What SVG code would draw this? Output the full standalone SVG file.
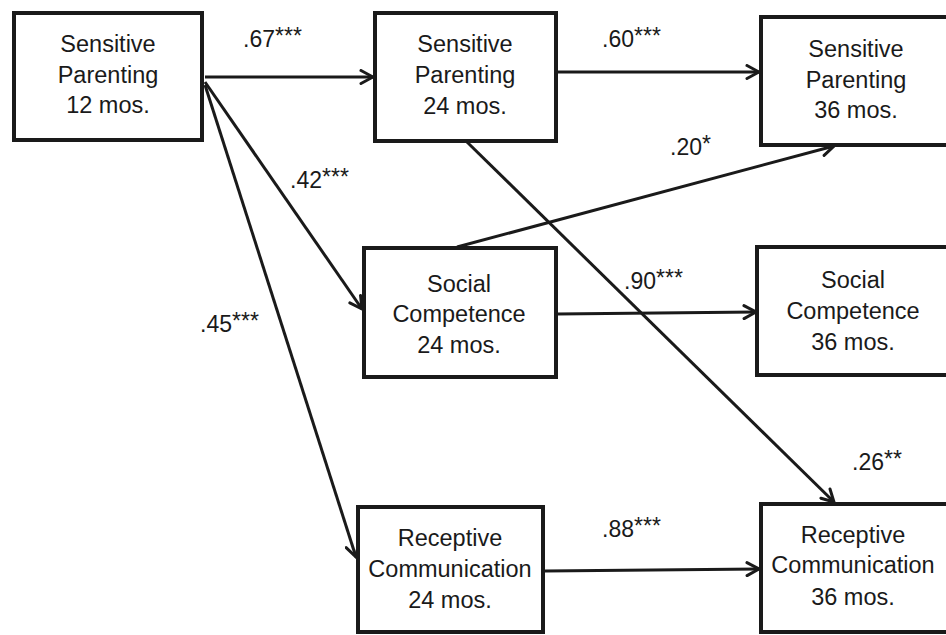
<svg xmlns="http://www.w3.org/2000/svg" width="946" height="635" viewBox="0 0 946 635">
<defs>
<style>
.box{fill:#fff;stroke:#1a1a1a;stroke-width:4}
.t{font-family:"Liberation Sans",Arial,Helvetica,sans-serif;font-size:23.5px;fill:#1a1a1a;text-anchor:middle}
.lbl{font-family:"Liberation Sans",Arial,Helvetica,sans-serif;font-size:23px;fill:#1a1a1a}
.c line{stroke:#1a1a1a;stroke-width:3;fill:none;marker-end:url(#ah)}
</style>
<marker id="ah" viewBox="0 0 16 16" refX="14" refY="8" markerWidth="16" markerHeight="16" markerUnits="userSpaceOnUse" orient="auto">
<path d="M2,1.5 L14,8 L2,14.5" fill="none" stroke="#1a1a1a" stroke-width="3" stroke-linecap="round" stroke-linejoin="miter"/>
</marker>
</defs>
<rect width="946" height="635" fill="#fff"/>
<g class="c" id="connectors">
<line x1="205" y1="77" x2="373" y2="77"/>
<line x1="557" y1="72" x2="759" y2="72"/>
<line x1="205" y1="82" x2="362" y2="309"/>
<line x1="205" y1="85" x2="356" y2="557"/>
<line x1="457" y1="247" x2="834" y2="146"/>
<line x1="467" y1="142" x2="834" y2="502"/>
<line x1="557" y1="314" x2="756" y2="312"/>
<line x1="545" y1="571" x2="759" y2="569"/>
</g>
<g id="sp12">
<rect class="box" x="14" y="13" width="188" height="127"/>
<text class="t" x="108" y="52">Sensitive</text>
<text class="t" x="108" y="83">Parenting</text>
<text class="t" x="108" y="113">12 mos.</text>
</g>
<g id="sp24">
<rect class="box" x="375" y="13" width="181" height="128"/>
<text class="t" x="465" y="52">Sensitive</text>
<text class="t" x="465" y="83">Parenting</text>
<text class="t" x="465" y="114">24 mos.</text>
</g>
<g id="sp36">
<rect class="box" x="761" y="17" width="190" height="128"/>
<text class="t" x="856" y="57">Sensitive</text>
<text class="t" x="856" y="88">Parenting</text>
<text class="t" x="856" y="118">36 mos.</text>
</g>
<g id="sc24">
<rect class="box" x="364" y="248" width="192" height="129"/>
<text class="t" x="459" y="292">Social</text>
<text class="t" x="459" y="322">Competence</text>
<text class="t" x="459" y="353">24 mos.</text>
</g>
<g id="sc36">
<rect class="box" x="757" y="247" width="192" height="128"/>
<text class="t" x="853" y="288">Social</text>
<text class="t" x="853" y="319">Competence</text>
<text class="t" x="853" y="350">36 mos.</text>
</g>
<g id="rc24">
<rect class="box" x="358" y="507" width="185" height="125"/>
<text class="t" x="450" y="546">Receptive</text>
<text class="t" x="450" y="577">Communication</text>
<text class="t" x="450" y="608">24 mos.</text>
</g>
<g id="rc36">
<rect class="box" x="761" y="504" width="190" height="128"/>
<text class="t" x="853" y="543">Receptive</text>
<text class="t" x="853" y="573">Communication</text>
<text class="t" x="853" y="605">36 mos.</text>
</g>
<g id="labels">
<text class="lbl" x="243" y="47">.67<tspan dy="-3">***</tspan></text>
<text class="lbl" x="602" y="47">.60<tspan dy="-3">***</tspan></text>
<text class="lbl" x="290" y="188">.42<tspan dy="-3">***</tspan></text>
<text class="lbl" x="670" y="155">.20<tspan dy="-3">*</tspan></text>
<text class="lbl" x="624" y="289">.90<tspan dy="-3">***</tspan></text>
<text class="lbl" x="200" y="332">.45<tspan dy="-3">***</tspan></text>
<text class="lbl" x="852" y="470">.26<tspan dy="-3">**</tspan></text>
<text class="lbl" x="602" y="537">.88<tspan dy="-3">***</tspan></text>
</g>
</svg>
